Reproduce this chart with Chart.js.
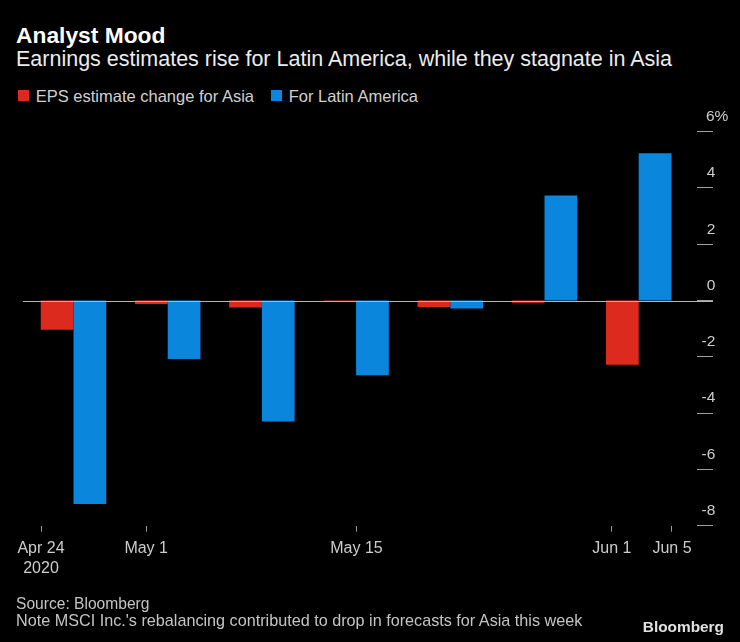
<!DOCTYPE html>
<html>
<head>
<meta charset="utf-8">
<script src="https://cdn.jsdelivr.net/npm/chart.js@4.4.1/dist/chart.umd.min.js"></script>
<style>
  body { margin: 0; background: #000; width: 740px; height: 642px; overflow: hidden; position: relative;
         font-family: 'Liberation Sans', Arial, sans-serif; }
  .t { position: absolute; white-space: nowrap; line-height: 1; }
  .sq { position: absolute; width: 11px; height: 11px; }
  #wrap { position: absolute; left: 0; top: 100px; width: 740px; height: 500px; }
</style>
</head>
<body>
<div class="t" style="left:16px;top:24px;font-size:22.8px;font-weight:bold;color:#fff">Analyst Mood</div>
<div class="t" style="left:16px;top:49px;font-size:21.5px;color:#ececec">Earnings estimates rise for Latin America, while they stagnate in Asia</div>
<div id="legend"></div>
<div id="wrap"><canvas id="chart"></canvas></div>
<div class="t" style="left:16px;top:596px;font-size:15.6px;color:#c4c4c4">Source: Bloomberg</div>
<div class="t" style="left:16px;top:611.5px;font-size:16.2px;color:#c4c4c4">Note MSCI Inc.'s rebalancing contributed to drop in forecasts for Asia this week</div>
<div class="t" style="right:16px;top:619px;font-size:15.4px;font-weight:bold;color:#e0e0e0">Bloomberg</div>
<script>
// weekly data points
const weeks = ['Apr 24', 'May 1', 'May 8', 'May 15', 'May 22', 'May 29', 'Jun 5'];
const asiaEps = [-1.04, -0.12, -0.25, -0.05, -0.23, -0.08, -2.28];
const latamEps = [-7.23, -2.08, -4.30, -2.65, -0.28, 3.73, 5.23];
const seriesNames = ['EPS estimate change for Asia', 'For Latin America'];
const seriesColors = ['#dd2a1f', '#0a86dd'];

// date axis: days after Apr 24
const tickDays = [0, 7, 21, 38, 42];
const tickLabels = [['Apr 24', '2020'], 'May 1', 'May 15', 'Jun 1', 'Jun 5'];
const yTicks = [-8, -6, -4, -2, 0, 2, 4, 6];

// html legend
const legend = document.getElementById('legend');
const legendX = [18, 271];
seriesNames.forEach((name, i) => {
  const sq = document.createElement('div');
  sq.className = 'sq';
  sq.style.left = legendX[i] + 'px';
  sq.style.top = '90px';
  sq.style.background = seriesColors[i];
  legend.appendChild(sq);
  const tx = document.createElement('div');
  tx.className = 't';
  tx.style.left = (legendX[i] + 17.7) + 'px';
  tx.style.top = '88px';
  tx.style.fontSize = '16.5px';
  tx.style.color = '#d0d0d0';
  tx.textContent = name;
  legend.appendChild(tx);
});

// zero line runs a bit past the plot on both sides
const zeroLine = {
  id: 'zeroLine',
  afterDatasetsDraw(chart) {
    const { ctx, chartArea, scales } = chart;
    const y0 = Math.round(scales.y.getPixelForValue(0)) + 0.5;
    ctx.save();
    ctx.strokeStyle = '#b4b4b4';
    ctx.lineWidth = 1;
    ctx.beginPath();
    ctx.moveTo(chartArea.left - 3.5, y0);
    ctx.lineTo(scales.y.left + 16, y0);
    ctx.stroke();
    ctx.restore();
  }
};

const axisFont = { family: "'Liberation Sans', Arial, sans-serif", size: 15.5 };

new Chart(document.getElementById('chart'), {
  type: 'bar',
  data: {
    labels: weeks,
    datasets: [
      { label: seriesNames[0], data: asiaEps, backgroundColor: seriesColors[0] },
      { label: seriesNames[1], data: latamEps, backgroundColor: seriesColors[1] }
    ]
  },
  options: {
    responsive: true,
    maintainAspectRatio: false,
    animation: false,
    categoryPercentage: 0.695,
    barPercentage: 1,
    layout: { padding: { left: 26.4, right: 11.7, top: 31.7, bottom: 14.3 } },
    plugins: { legend: { display: false }, tooltip: { enabled: false } },
    scales: {
      x: { display: false, offset: true },
      // second bottom axis only carries the date ticks
      x2: {
        type: 'linear',
        position: 'bottom',
        offset: false,
        min: -0.972,
        max: 42.92,
        afterBuildTicks: (scale) => { scale.ticks = tickDays.map(v => ({ value: v })); },
        afterFit: (scale) => { scale.height = 60; },
        grid: { drawOnChartArea: false, offset: false, tickLength: 6, color: '#9a9a9a' },
        border: { display: false },
        ticks: {
          color: '#cccccc',
          font: { ...axisFont, size: 16, lineHeight: 1.3 },
          padding: 6,
          maxRotation: 0,
          autoSkip: false,
          callback: (v, i) => tickLabels[i]
        }
      },
      // empty spacer between the bars and the value axis
      pad: {
        type: 'linear',
        position: 'right',
        weight: 0,
        afterFit: (scale) => { scale.width = 11.2; },
        grid: { display: false },
        border: { display: false },
        ticks: { display: false }
      },
      y: {
        position: 'right',
        weight: 1,
        min: -8,
        max: 6,
        afterBuildTicks: (scale) => { scale.ticks = yTicks.map(v => ({ value: v })); },
        afterFit: (scale) => { scale.width = 31.3; },
        grid: { drawOnChartArea: false, tickLength: 16, color: '#a0a0a0' },
        border: { display: false },
        ticks: {
          color: '#cccccc',
          font: axisFont,
          crossAlign: 'far',
          labelOffset: -15,
          // numbers line up, the % of the top label hangs past them
          callback: (v) => v === 6 ? '6%' : String(v) + '\u2007\u2008'
        }
      }
    }
  },
  plugins: [zeroLine]
});
</script>
</body>
</html>
